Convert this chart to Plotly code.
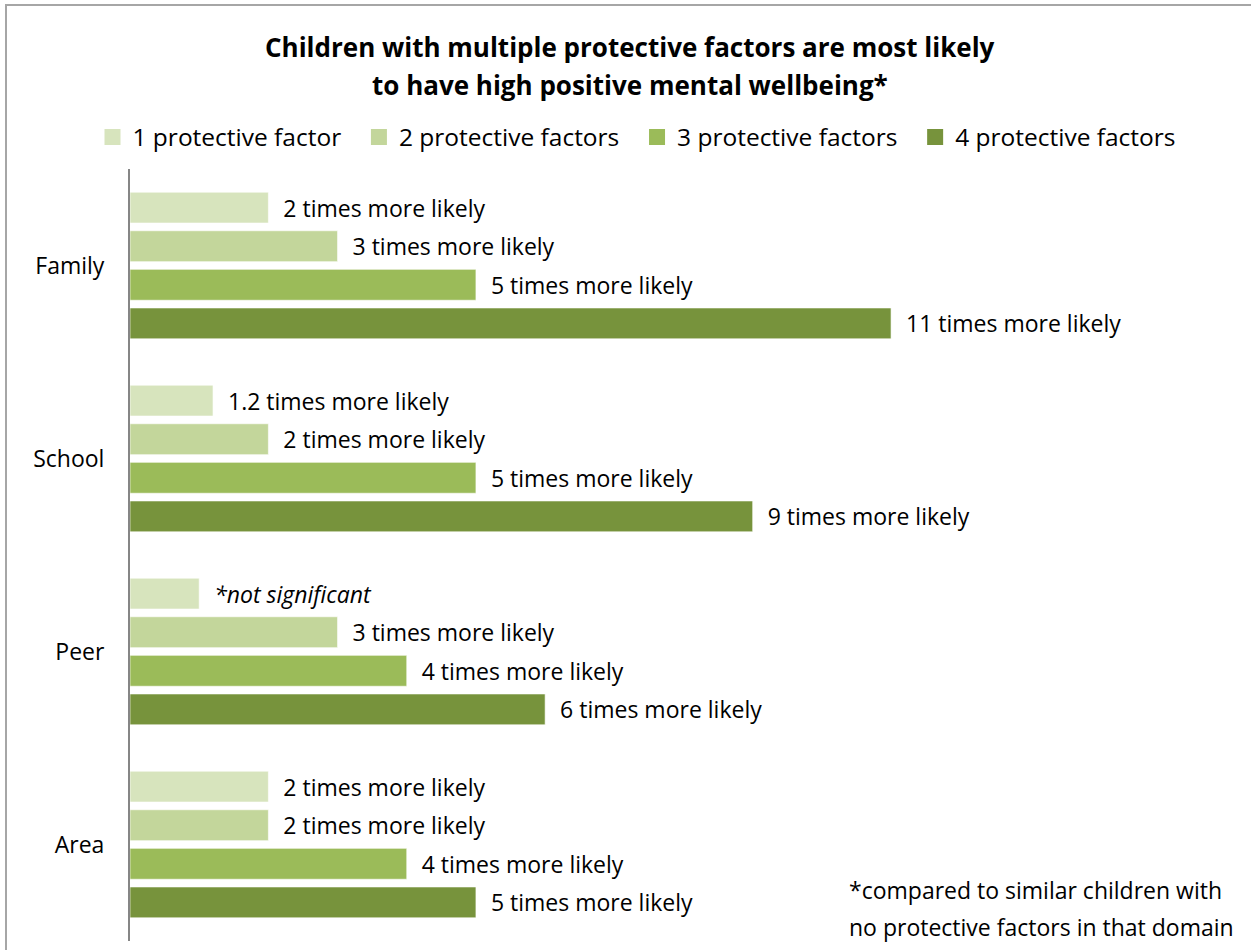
import plotly.graph_objects as go

# Domains shown on the category axis (top to bottom)
domains = ["Family", "School", "Peer", "Area"]

# Series: number of protective factors in the domain
series_names = ["1 protective factor", "2 protective factors",
                "3 protective factors", "4 protective factors"]

# Odds of high positive mental wellbeing relative to no protective factors
one_factor = [2, 1.2, 1, 2]
two_factors = [3, 2, 3, 2]
three_factors = [5, 5, 4, 4]
four_factors = [11, 9, 6, 5]

# Bar labels
one_labels = ["2 times more likely", "1.2 times more likely",
              "<i>*not significant</i>", "2 times more likely"]
two_labels = ["3 times more likely", "2 times more likely",
              "3 times more likely", "2 times more likely"]
three_labels = ["5 times more likely", "5 times more likely",
                "4 times more likely", "4 times more likely"]
four_labels = ["11 times more likely", "9 times more likely",
               "6 times more likely", "5 times more likely"]

title_lines = ["Children with multiple protective factors are most likely",
               "to have high positive mental wellbeing*"]
note_lines = ["*compared to similar children with",
              "no protective factors in that domain"]

colors = ["#D7E4BD", "#C3D69B", "#9BBB59", "#77933C"]

FONT = "Open Sans"
FS = 23
W, H = 1251, 950
ML, MR, MT, MB = 130, 14, 169, 9
pw, ph = W - ML - MR, H - MT - MB


def px_x(x):
    return (x - ML) / pw


def px_y(y):
    return (H - MB - y) / ph


fig = go.Figure()
for name, vals, labels, col in zip(
        series_names,
        [one_factor, two_factors, three_factors, four_factors],
        [one_labels, two_labels, three_labels, four_labels],
        colors):
    fig.add_trace(go.Bar(
        y=domains, x=vals, name=name, orientation="h", showlegend=False,
        marker=dict(color=col, line=dict(color="rgba(255,255,255,0.6)", width=1)),
        text=["\u00a0\u00a0" + t for t in labels],
        textposition="outside", constraintext="none", cliponaxis=False,
        textfont=dict(family=FONT, size=FS, color="#000000"),
        hoverinfo="skip",
    ))

# Legend entries with larger square swatches (trailing spaces widen the gaps)
for name, col in zip(series_names, colors):
    fig.add_trace(go.Scatter(
        x=[None], y=[None], mode="markers", name=name + "\u00a0\u00a0",
        marker=dict(symbol="square", size=16, color=col),
        hoverinfo="skip", showlegend=True,
    ))

# Outer frame of the chart area
fig.add_shape(type="rect", xref="paper", yref="paper",
              x0=px_x(6), x1=px_x(W + 5), y0=px_y(H + 5), y1=px_y(5),
              line=dict(color="#A6A6A6", width=2), layer="below")

for line, yc in zip(title_lines, [47, 85]):
    fig.add_annotation(
        text="<b>" + line + "</b>", xref="paper", yref="paper",
        x=px_x(630), y=px_y(yc), xanchor="center", yanchor="middle",
        showarrow=False, font=dict(family=FONT, size=26, color="#000000"))

for line, yc in zip(note_lines, [890, 927]):
    fig.add_annotation(
        text=line, xref="paper", yref="paper",
        x=px_x(847), y=px_y(yc), xanchor="left", yanchor="middle",
        showarrow=False, font=dict(family=FONT, size=FS, color="#000000"))

fig.update_layout(
    width=W, height=H,
    margin=dict(l=ML, r=MR, t=MT, b=MB),
    paper_bgcolor="white", plot_bgcolor="white",
    barmode="group", bargap=0.2, bargroupgap=0.2,
    font=dict(family=FONT, size=FS, color="#000000"),
    showlegend=True,
    legend=dict(orientation="h", x=px_x(643), xanchor="center",
                y=px_y(137), yanchor="middle",
                font=dict(family=FONT, size=24.5), traceorder="normal",
                itemwidth=30),
    xaxis=dict(range=[0, 16], visible=False, fixedrange=True),
    yaxis=dict(autorange="reversed", showline=True, linecolor="#868686",
               linewidth=2, ticks="", showgrid=False, ticklabelstandoff=19,
               tickfont=dict(family=FONT, size=FS)),
)

fig.write_html("out.html")
